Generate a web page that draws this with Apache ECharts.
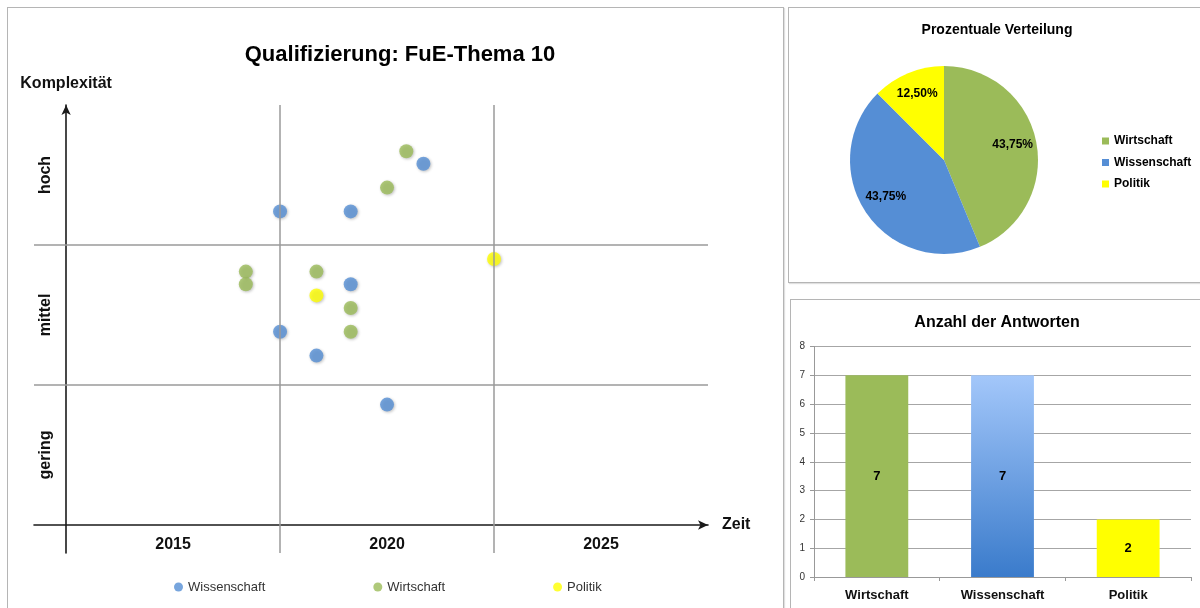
<!DOCTYPE html>
<html lang="de">
<head>
<meta charset="utf-8">
<title>Qualifizierung: FuE-Thema 10</title>
<script src="https://cdn.jsdelivr.net/npm/echarts@6/dist/echarts.min.js"></script>
<style>
  html, body { margin: 0; padding: 0; width: 1200px; height: 608px; overflow: hidden; background: #fff; }
  .frame { position: absolute; border: 1px solid #b5b5b5; box-shadow: 1px 1px 1px rgba(0,0,0,0.12); }
  .chart { position: absolute; }
</style>
</head>
<body>
<div class="frame" style="left:7px; top:7px; width:775px; height:620px;"></div>
<div class="frame" style="left:788px; top:7px; width:430px; height:274px;"></div>
<div class="frame" style="left:790px; top:299px; width:430px; height:330px;"></div>
<div id="scatter" class="chart" style="left:0; top:0; width:800px; height:608px;"></div>
<div id="pie" class="chart" style="left:786px; top:0; width:422px; height:290px;"></div>
<div id="bar" class="chart" style="left:786px; top:290px; width:422px; height:318px;"></div>

<script type="text/javascript">
    // Werte
    const timeLabels = ['2015', '2020', '2025'];
    const levelLabels = ['gering', 'mittel', 'hoch'];
    const labelPositions = [0.5, 1.5, 2.5];
    const dividers = [1, 2];

    // [Zeit, Komplexität]
    const wissenschaftPts = [[1.00, 2.24], [1.33, 2.24], [1.67, 2.58], [1.33, 1.72], [1.00, 1.38], [1.17, 1.21], [1.50, 0.86]];
    const wirtschaftPts = [[1.59, 2.67], [1.50, 2.41], [0.84, 1.81], [0.84, 1.72], [1.17, 1.81], [1.33, 1.55], [1.33, 1.38]];
    const politikPts = [[1.17, 1.64], [2.00, 1.90]];

    const categories = ['Wirtschaft', 'Wissenschaft', 'Politik'];
    const answerCounts = [7, 7, 2];

    const BLUE = '#558ED5', GREEN = '#9BBB59', YELLOW = '#FFFF00';
    const FONT = '"Liberation Sans", Arial, sans-serif';

    function dotSeries(name, data, color) {
        return {
            name: name,
            type: 'scatter',
            data: data,
            symbolSize: 14,
            z: 3,
            itemStyle: {
                color: color,
                shadowBlur: 3,
                shadowOffsetX: 1,
                shadowOffsetY: 1,
                shadowColor: 'rgba(0,0,0,0.3)'
            }
        };
    }

    function initScatter() {
        let chart = echarts.init(document.getElementById('scatter'));
        const option = {
            textStyle: { fontFamily: FONT },
            title: {
                text: 'Qualifizierung: FuE-Thema 10',
                left: 'center',
                top: 39,
                textStyle: { fontSize: 22, fontWeight: 'bold', color: '#000', fontFamily: FONT }
            },
            legend: {
                data: ['Wissenschaft', 'Wirtschaft', 'Politik'],
                left: 169,
                top: 574,
                icon: 'circle',
                itemWidth: 9,
                itemHeight: 9,
                itemGap: 108,
                textStyle: { fontSize: 13, color: '#333', lineHeight: 16, fontFamily: FONT }
            },
            grid: { left: 34, right: 92, top: 105, bottom: 55 },
            xAxis: {
                type: 'value',
                min: -0.15,
                max: 3,
                name: 'Zeit',
                nameLocation: 'end',
                nameGap: 14,
                nameTextStyle: { fontSize: 16, fontWeight: 'bold', color: '#111', fontFamily: FONT },
                axisLine: { onZero: true, symbol: ['none', 'arrow'], symbolSize: [7, 10], lineStyle: { color: '#1a1a1a', width: 1.6 } },
                axisTick: { show: false },
                splitLine: { show: false },
                axisLabel: {
                    customValues: labelPositions,
                    formatter: function (v) { return timeLabels[Math.floor(v)]; },
                    fontSize: 16, fontWeight: 'bold', color: '#111', margin: -16, fontFamily: FONT
                }
            },
            yAxis: {
                type: 'value',
                min: -0.2,
                max: 3,
                name: 'Komplexität',
                nameLocation: 'end',
                nameGap: 13,
                nameTextStyle: { fontSize: 16, fontWeight: 'bold', color: '#111', fontFamily: FONT },
                axisLine: { onZero: true, symbol: ['none', 'arrow'], symbolSize: [7, 10], lineStyle: { color: '#1a1a1a', width: 1.6 } },
                axisTick: { show: false },
                splitLine: { show: false },
                axisLabel: {
                    customValues: labelPositions,
                    formatter: function (v) { return levelLabels[Math.floor(v)]; },
                    rotate: 90,
                    fontSize: 16, fontWeight: 'bold', color: '#111', margin: -20, fontFamily: FONT
                }
            },
            series: [
                {
                    name: 'Raster',
                    type: 'scatter',
                    data: [],
                    z: 1,
                    silent: true,
                    markLine: {
                        silent: true,
                        symbol: 'none',
                        label: { show: false },
                        lineStyle: { type: 'solid', color: '#9a9a9a', width: 1.5 },
                        data: dividers.map(v => ({ xAxis: v })).concat(dividers.map(v => ({ yAxis: v })))
                    }
                },
                dotSeries('Wissenschaft', wissenschaftPts, BLUE),
                dotSeries('Wirtschaft', wirtschaftPts, GREEN),
                dotSeries('Politik', politikPts, YELLOW)
            ]
        };
        chart.setOption(option);
    }

    function initPie() {
        let chart = echarts.init(document.getElementById('pie'));
        const colors = [GREEN, BLUE, YELLOW];
        const pieData = categories.map((c, i) => ({ name: c, value: answerCounts[i], itemStyle: { color: colors[i] } }));
        const option = {
            textStyle: { fontFamily: FONT },
            title: {
                text: 'Prozentuale Verteilung',
                left: 'center',
                top: 18,
                textStyle: { fontSize: 14, fontWeight: 'bold', color: '#000', fontFamily: FONT }
            },
            legend: {
                data: categories,
                orient: 'vertical',
                left: 311,
                top: 129,
                icon: 'rect',
                itemWidth: 7,
                itemHeight: 7,
                itemGap: 7.5,
                textStyle: { fontSize: 12, fontWeight: 'bold', color: '#000', lineHeight: 14, fontFamily: FONT }
            },
            series: [
                {
                    type: 'pie',
                    radius: 94,
                    center: [158, 160],
                    startAngle: 90,
                    clockwise: true,
                    silent: true,
                    label: { show: false },
                    labelLine: { show: false },
                    data: pieData
                },
                {
                    // unsichtbarer Ring nur für die Beschriftung
                    type: 'pie',
                    radius: 134,
                    center: [158, 158],
                    startAngle: 90,
                    clockwise: true,
                    silent: true,
                    itemStyle: { color: 'rgba(0,0,0,0)' },
                    label: {
                        show: true,
                        position: 'inner',
                        formatter: function (p) { return p.percent.toFixed(2).replace('.', ',') + '%'; },
                        fontSize: 12, fontWeight: 'bold', color: '#000', textBorderWidth: 0, fontFamily: FONT
                    },
                    labelLine: { show: false },
                    data: categories.map((c, i) => ({ name: c, value: answerCounts[i] }))
                }
            ]
        };
        chart.setOption(option);
    }

    function initBar() {
        let chart = echarts.init(document.getElementById('bar'));
        const barColors = [
            GREEN,
            new echarts.graphic.LinearGradient(0, 0, 0, 1, [
                { offset: 0, color: '#A3C7FA' },
                { offset: 1, color: '#3A7BCB' }
            ]),
            YELLOW
        ];
        const option = {
            textStyle: { fontFamily: FONT },
            title: {
                text: 'Anzahl der Antworten',
                left: 'center',
                top: 20,
                textStyle: { fontSize: 16, fontWeight: 'bold', color: '#000', fontFamily: FONT }
            },
            grid: { left: 28, right: 17, top: 56.5, bottom: 31 },
            xAxis: {
                type: 'category',
                data: categories,
                axisLine: { lineStyle: { color: '#999' } },
                axisTick: { show: true, length: 4, lineStyle: { color: '#999' } },
                axisLabel: { fontSize: 13, fontWeight: 'bold', color: '#111', margin: 12, fontFamily: FONT }
            },
            yAxis: {
                type: 'value',
                min: 0,
                max: 8,
                interval: 1,
                axisLine: { show: true, lineStyle: { color: '#999' } },
                axisTick: { show: true, length: 4, lineStyle: { color: '#999' } },
                axisLabel: { fontSize: 10, color: '#333', margin: 9, fontFamily: FONT },
                splitLine: { lineStyle: { color: '#a6a6a6' } }
            },
            series: [{
                type: 'bar',
                barWidth: '50%',
                data: answerCounts.map((v, i) => ({ value: v, itemStyle: { color: barColors[i] } })),
                label: { show: true, position: 'inside', fontSize: 13, fontWeight: 'bold', color: '#000', fontFamily: FONT }
            }]
        };
        chart.setOption(option);
    }

    initScatter();
    initPie();
    initBar();
</script>
</body>
</html>
